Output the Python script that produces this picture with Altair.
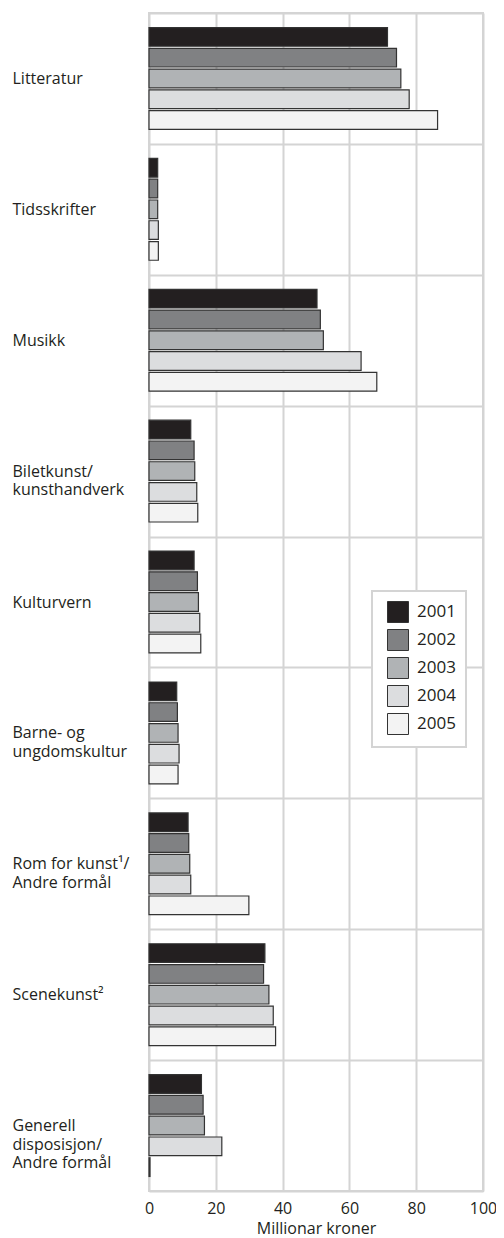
import altair as alt
import pandas as pd

categories = [
    "Litteratur",
    "Tidsskrifter",
    "Musikk",
    "Biletkunst/|kunsthandverk",
    "Kulturvern",
    "Barne- og|ungdomskultur",
    "Rom for kunst\u00b9/|Andre formål",
    "Scenekunst\u00b2",
    "Generell|disposisjon/|Andre formål",
]
years = ["2001", "2002", "2003", "2004", "2005"]
v2001 = [71.4, 2.6, 50.3, 12.5, 13.5, 8.3, 11.7, 34.7, 15.7]
v2002 = [74.1, 2.6, 51.3, 13.5, 14.5, 8.5, 11.9, 34.3, 16.2]
v2003 = [75.4, 2.6, 52.2, 13.7, 14.8, 8.7, 12.2, 35.9, 16.6]
v2004 = [77.9, 2.8, 63.5, 14.3, 15.2, 9.0, 12.5, 37.2, 21.8]
v2005 = [86.4, 2.8, 68.2, 14.6, 15.5, 8.7, 29.9, 37.9, 0.3]
colors = ["#231f20", "#808183", "#b0b3b5", "#dcdddf", "#f3f3f3"]
x_ticks = [0, 20, 40, 60, 80, 100]

rows = []
for yr, vals in zip(years, [v2001, v2002, v2003, v2004, v2005]):
    for c, v in zip(categories, vals):
        rows.append({"kategori": c, "år": yr, "verdi": v})
df = pd.DataFrame(rows)

grid_col = "#d4d4d4"
font = "Open Sans"

chart = (
    alt.Chart(df)
    .mark_bar(stroke="#333333", strokeWidth=1.2)
    .encode(
        x=alt.X(
            "verdi:Q",
            scale=alt.Scale(domain=[0, 100], nice=False),
            axis=alt.Axis(
                values=x_ticks,
                title="Millionar kroner",
                grid=True,
                gridColor=grid_col,
                gridWidth=2,
                domain=False,
                ticks=False,
                labelFlush=False,
                labelFontSize=16,
                labelPadding=9,
                labelColor="#231f20",
                labelFont=font,
                titleFont=font,
                titleFontSize=16,
                titleFontWeight="normal",
                titleColor="#231f20",
                titlePadding=4,
            ),
        ),
        y=alt.Y(
            "kategori:N",
            sort=categories,
            scale=alt.Scale(paddingInner=0, paddingOuter=0),
            axis=alt.Axis(
                title=None,
                grid=True,
                tickBand="extent",
                gridColor=grid_col,
                gridWidth=2,
                domain=False,
                ticks=False,
                tickSize=0,
                labelAlign="left",
                labelPadding=137,
                labelFontSize=16,
                labelFont=font,
                labelColor="#231f20",
                labelLineHeight=18.5,
                labelExpr="split(datum.label, '|')",
            ),
        ),
        yOffset=alt.YOffset(
            "år:N",
            sort=years,
            scale=alt.Scale(paddingInner=0.1, paddingOuter=0.7),
        ),
        color=alt.Color(
            "år:N",
            sort=years,
            scale=alt.Scale(domain=years, range=colors),
            legend=alt.Legend(
                title=None,
                orient="none",
                legendX=223,
                legendY=578,
                fillColor="white",
                strokeColor=grid_col,
                padding=10,
                symbolOffset=5,
                symbolType="square",
                symbolSize=441,
                symbolStrokeColor="#333333",
                symbolStrokeWidth=1,
                symbolOpacity=1,
                labelFontSize=17,
                labelFont=font,
                labelColor="#231f20",
                labelOffset=8,
                rowPadding=2,
            ),
        ),
    )
    .properties(
        width=334,
        height=1178,
        autosize=alt.AutoSizeParams(type="none"),
        padding={"left": 141, "top": 5, "right": 13, "bottom": 48},
    )
    .configure_view(stroke=grid_col, strokeWidth=2)
    .configure_legend(strokeWidth=2)
)

chart.save("out.html", embed_options={"renderer": "svg", "actions": False})
